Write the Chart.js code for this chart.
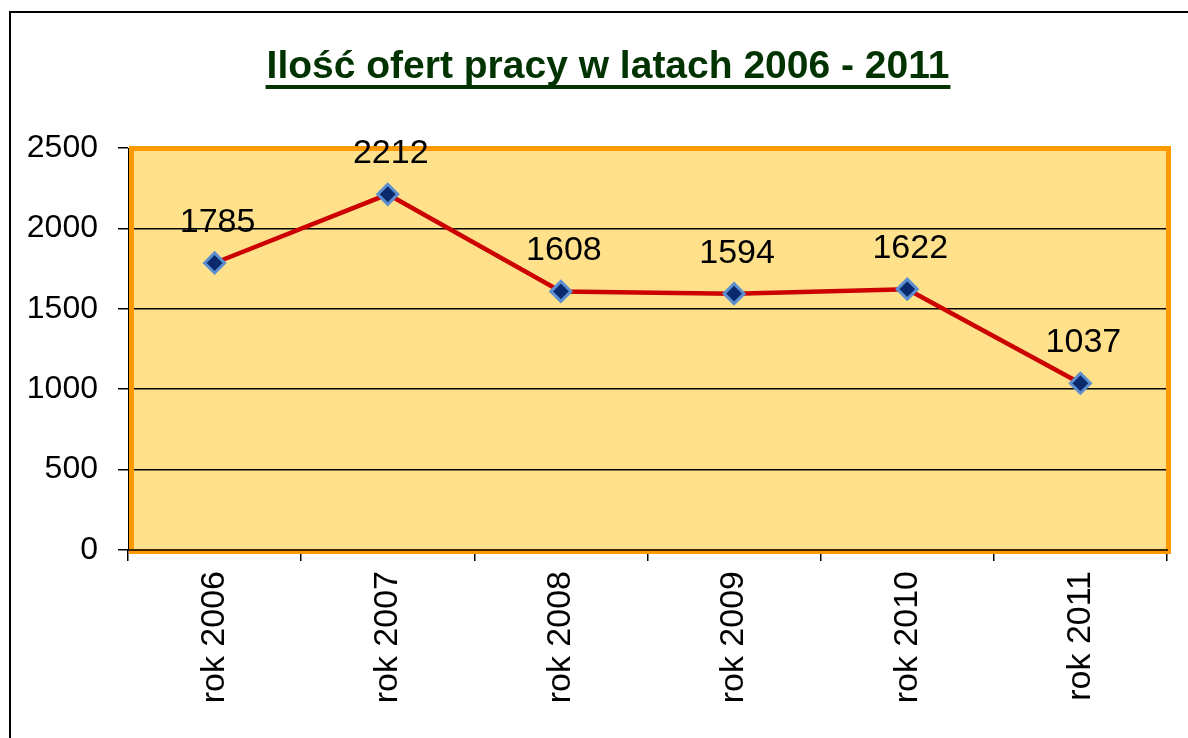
<!DOCTYPE html>
<html lang="pl">
<head>
<meta charset="utf-8">
<title>Ilość ofert pracy w latach 2006 - 2011</title>
<script src="https://cdn.jsdelivr.net/npm/chart.js@4/dist/chart.umd.min.js"></script>
<style>
  html, body { margin: 0; padding: 0; background: #fff; }
  .wrap { width: 1188px; height: 738px; position: relative; }
</style>
</head>
<body>
<div class="wrap"><canvas id="myChart" width="1188" height="738"></canvas></div>
<script>
const years = ['rok 2006', 'rok 2007', 'rok 2008', 'rok 2009', 'rok 2010', 'rok 2011'];
const offers = [1785, 2212, 1608, 1594, 1622, 1037];
const yTicks = [0, 500, 1000, 1500, 2000, 2500];
const chartTitle = 'Ilość ofert pracy w latach 2006 - 2011';

const FONT = '"Liberation Sans", Arial, sans-serif';

// yellow plot background, orange frame and the outer box
const frame = {
  id: 'frame',
  beforeDraw(chart) {
    const { ctx, chartArea: a } = chart;
    ctx.save();
    ctx.fillStyle = '#fff';
    ctx.fillRect(0, 0, chart.width, chart.height);
    ctx.strokeStyle = '#000';
    ctx.lineWidth = 2;
    ctx.beginPath();
    ctx.moveTo(10, chart.height);
    ctx.lineTo(10, 12);
    ctx.lineTo(chart.width, 12);
    ctx.stroke();
    ctx.fillStyle = '#FFE08B';
    ctx.fillRect(a.left, a.top, a.right - a.left, a.bottom - a.top);
    ctx.restore();
  },
  beforeDatasetsDraw(chart) {
    const { ctx, chartArea: a } = chart;
    ctx.save();
    ctx.strokeStyle = '#FF9900';
    ctx.lineWidth = 5;
    ctx.strokeRect(a.left + 3.5, a.top + 0.5, a.right - a.left - 2, a.bottom - a.top + 1);
    // axis line on top of the frame
    ctx.strokeStyle = '#000';
    ctx.lineWidth = 1.5;
    ctx.beginPath();
    ctx.moveTo(a.left, a.bottom);
    ctx.lineTo(a.right + 1, a.bottom);
    ctx.stroke();
    ctx.restore();
  }
};

// value labels above the points
const valueLabels = {
  id: 'valueLabels',
  afterDatasetsDraw(chart) {
    const { ctx } = chart;
    const meta = chart.getDatasetMeta(0);
    ctx.save();
    ctx.font = '34px ' + FONT;
    ctx.fillStyle = '#000';
    ctx.textAlign = 'center';
    ctx.textBaseline = 'alphabetic';
    meta.data.forEach((pt, i) => {
      ctx.fillText(String(offers[i]), pt.x + 3, pt.y - 31);
    });
    ctx.restore();
  }
};

// underlined title
const underlinedTitle = {
  id: 'underlinedTitle',
  afterDraw(chart) {
    const { ctx } = chart;
    ctx.save();
    ctx.font = 'bold 39px ' + FONT;
    ctx.fillStyle = '#003300';
    ctx.textAlign = 'center';
    ctx.textBaseline = 'alphabetic';
    const cx = 608;
    ctx.fillText(chartTitle, cx, 78);
    const w = ctx.measureText(chartTitle).width;
    ctx.fillRect(cx - w / 2 - 1, 85, w + 2, 4);
    ctx.restore();
  }
};

const ctx = document.getElementById('myChart').getContext('2d');
new Chart(ctx, {
  type: 'line',
  data: {
    labels: years,
    datasets: [{
      label: 'Oferty pracy',
      data: offers,
      borderColor: '#CC0000',
      borderWidth: 4.5,
      tension: 0,
      pointStyle: 'rectRot',
      pointRadius: 10,
      pointHoverRadius: 10,
      pointBackgroundColor: '#0B2A6E',
      pointBorderColor: '#5B8FD0',
      pointBorderWidth: 3
    }]
  },
  options: {
    responsive: false,
    animation: false,
    layout: { padding: { top: 148, right: 21, left: 0, bottom: 0 } },
    plugins: {
      legend: { display: false },
      title: { display: false },
      tooltip: { enabled: false }
    },
    scales: {
      x: {
        offset: true,
        grid: {
          offset: true,
          drawOnChartArea: false,
          drawTicks: true,
          tickLength: 11,
          color: '#000',
          lineWidth: 1.5
        },
        border: { display: false },
        ticks: {
          color: '#000',
          font: { family: FONT, size: 34 },
          minRotation: 90,
          maxRotation: 90,
          padding: 10
        },
        afterFit(scale) { scale.height = 188; }
      },
      y: {
        min: 0,
        max: 2500,
        afterBuildTicks(scale) { scale.ticks = yTicks.map(v => ({ value: v })); },
        grid: {
          color: '#000',
          lineWidth: 1.5,
          tickLength: 10
        },
        border: { display: true, color: '#000', width: 1 },
        ticks: {
          color: '#000',
          font: { family: FONT, size: 32 },
          padding: 20,
          callback: v => String(v)
        },
        afterFit(scale) { scale.width = 128; }
      }
    }
  },
  plugins: [frame, valueLabels, underlinedTitle]
});
</script>
</body>
</html>
